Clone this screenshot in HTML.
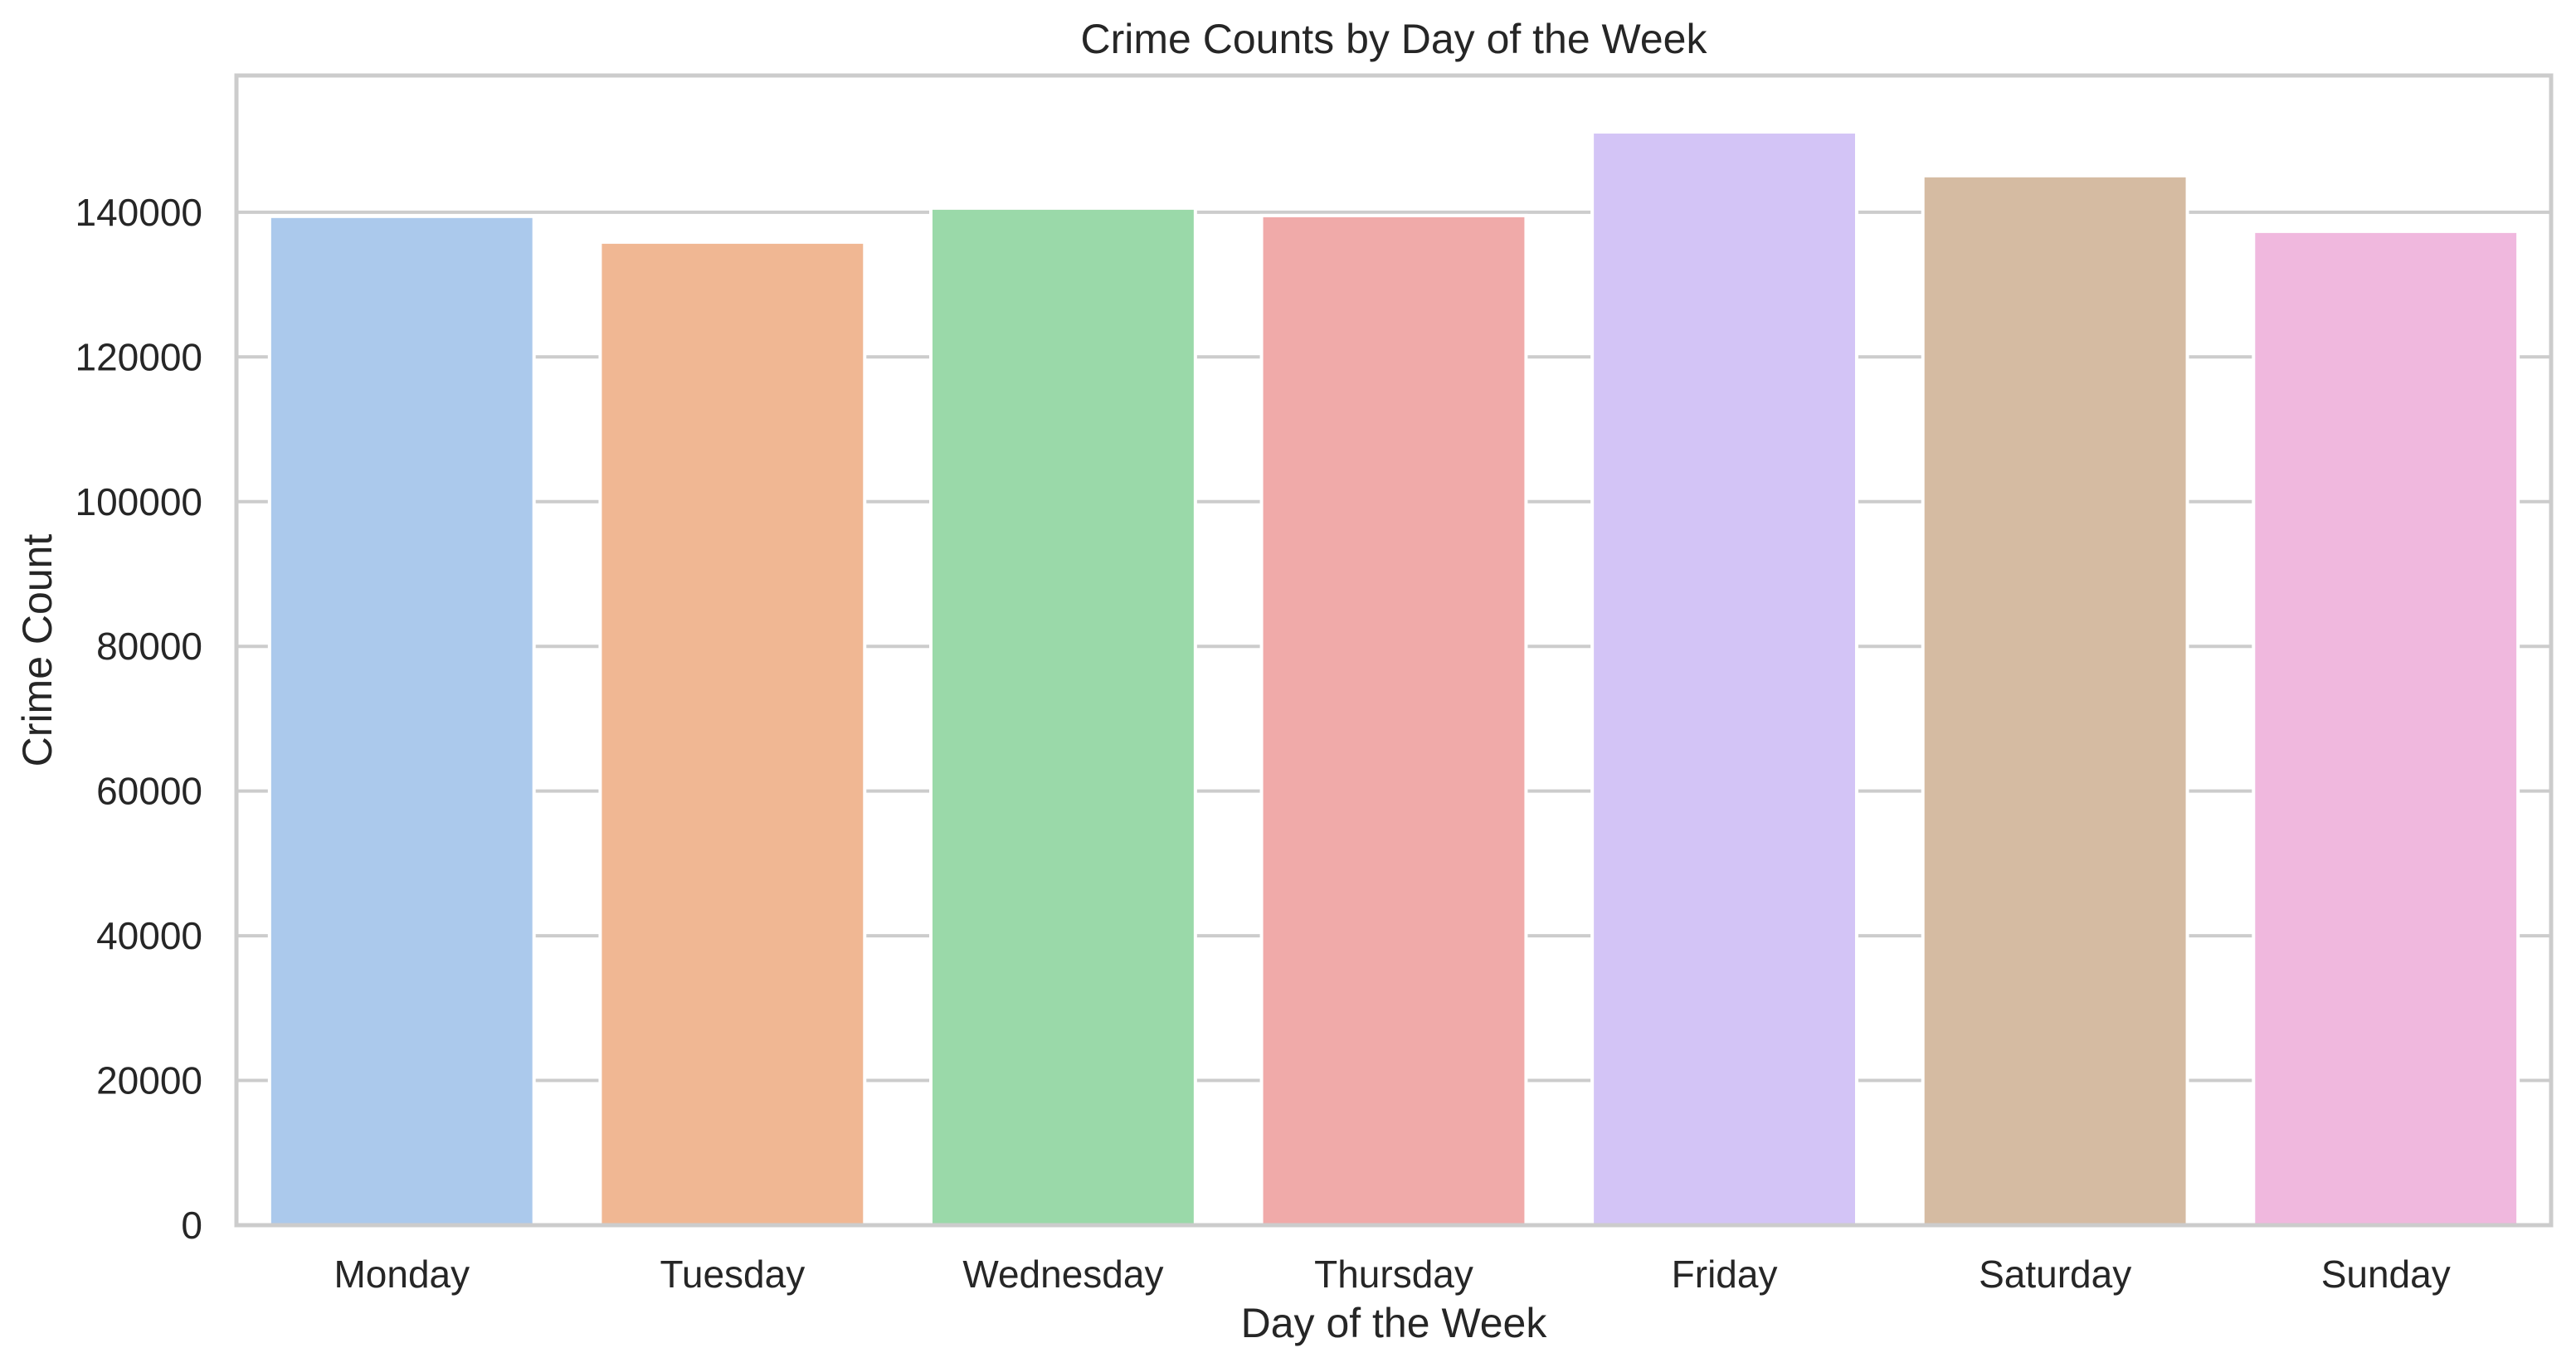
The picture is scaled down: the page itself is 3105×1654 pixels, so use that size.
<!DOCTYPE html>
<html><head><meta charset="utf-8"><style>
html,body{margin:0;padding:0;background:#fff}
svg{display:block;font-family:"Liberation Sans",Arial,sans-serif}
</style></head><body>
<svg id="chart" width="3105" height="1654" viewBox="0 0 3105 1654" xmlns="http://www.w3.org/2000/svg">
<rect width="3105" height="1654" fill="#fff"/>
<text x="1680" y="64" text-anchor="middle" font-size="50" fill="#262626">Crime Counts by Day of the Week</text>
<g id="grid"></g>
<g id="bars"></g>
<g id="spines"></g>
<g id="yticks"></g>
<g id="xticks"></g>
<text x="1680" y="1612" text-anchor="middle" font-size="50" fill="#262626">Day of the Week</text>
<text transform="translate(62,784) rotate(-90)" text-anchor="middle" font-size="50" fill="#262626">Crime Count</text>
</svg>
<script>
const categories = ["Monday","Tuesday","Wednesday","Thursday","Friday","Saturday","Sunday"];
const counts = [139430, 135870, 140570, 139540, 151100, 145050, 137360];
const colors = ["#abc9ec","#f0b793","#9ad9a9","#f0aaa9","#d3c4f6","#d5bba2","#f0b8de"];
const yTicks = [0,20000,40000,60000,80000,100000,120000,140000];
const yMax = 158900;

const NS="http://www.w3.org/2000/svg";
const L=285,R=3075,T=91,B=1477;
const yScale=v=>B-(v/yMax)*(B-T);
const step=(R-L)/categories.length;
const xCenter=i=>L+step*(i+0.5);
function mk(tag,attrs,parent){const e=document.createElementNS(NS,tag);for(const k in attrs)e.setAttribute(k,attrs[k]);parent.appendChild(e);return e;}
const grid=document.getElementById('grid'),bars=document.getElementById('bars'),spines=document.getElementById('spines'),yt=document.getElementById('yticks'),xt=document.getElementById('xticks');
yTicks.forEach(v=>{
  const y=yScale(v);
  const g=mk('line',{x1:L,x2:R,y1:y,y2:y,stroke:'#cccccc','stroke-width':4},grid);
  
  
  const t=mk('text',{x:244,y:y+16,'text-anchor':'end','font-size':46,fill:'#262626'},yt);
  t.textContent=String(v);
  
  
});
const bw=step*0.8;
counts.forEach((v,i)=>{
  const y=yScale(v);
  const r=mk('rect',{x:xCenter(i)-bw/2,y:y,width:bw,height:B-y,fill:colors[i],stroke:'#fff','stroke-width':4},bars);
  
  
  const t=mk('text',{x:xCenter(i),y:1552,'text-anchor':'middle','font-size':46,fill:'#262626'},xt);
  t.textContent=categories[i];
  
  
});
const s=mk('rect',{x:L,y:T,width:R-L,height:B-T,fill:'none',stroke:'#cccccc','stroke-width':5},spines);


</script>
</body></html>
